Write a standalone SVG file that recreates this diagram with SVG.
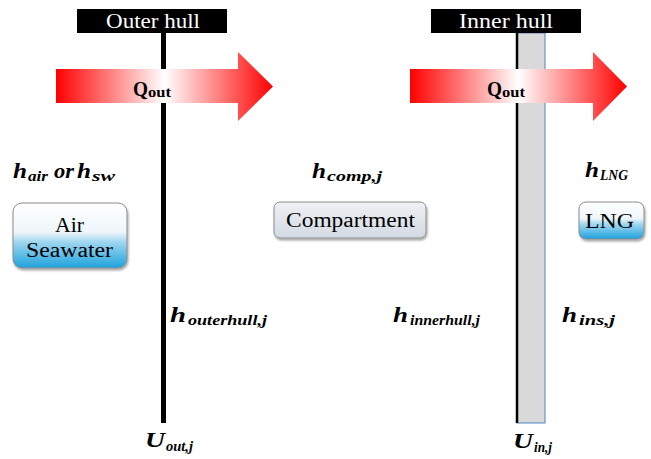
<svg xmlns="http://www.w3.org/2000/svg" width="651" height="459" viewBox="0 0 651 459">
<defs>
<linearGradient id="heat" x1="0" y1="0" x2="1" y2="0">
<stop offset="0" stop-color="#ff0000"/>
<stop offset="0.5" stop-color="#ffffff"/>
<stop offset="1" stop-color="#ff0000"/>
</linearGradient>
<linearGradient id="water" x1="0" y1="0" x2="0" y2="1">
<stop offset="0" stop-color="#ffffff"/>
<stop offset="0.45" stop-color="#eef6fb"/>
<stop offset="0.6" stop-color="#9fd6f0"/>
<stop offset="1" stop-color="#1ea2dc"/>
</linearGradient>
<linearGradient id="comp" x1="0" y1="0" x2="0" y2="1">
<stop offset="0" stop-color="#eef1f5"/>
<stop offset="1" stop-color="#d3dae3"/>
</linearGradient>
<filter id="sh" x="-10%" y="-10%" width="130%" height="140%">
<feDropShadow dx="1" dy="2" stdDeviation="1.2" flood-color="#000" flood-opacity="0.35"/>
</filter>
</defs>
<style>
.title{font-family:"Liberation Serif",serif;font-size:20px;fill:#ffffff}
.q{font-family:"Liberation Serif",serif;font-weight:bold;fill:#000}
.box{stroke:#8c8c8c;stroke-width:1}
.bt{font-family:"Liberation Serif",serif;font-size:20px;fill:#000}
.m{font-family:"Liberation Serif","DejaVu Serif",serif;font-weight:bold;font-style:italic;fill:#000;font-size:21px}
.s{font-size:15px}
</style>
<rect width="651" height="459" fill="#ffffff"/>

<g id="connectors">
<line x1="163.5" y1="33" x2="163.5" y2="423" stroke="#000" stroke-width="5"/>
<rect x="517" y="33" width="28" height="390" fill="#d9d9d9" stroke="#4f81bd" stroke-width="1"/>
<line x1="517" y1="33" x2="517" y2="423" stroke="#000" stroke-width="2.5"/>
<polygon points="56,69 238,69 238,52 273,86.5 238,121 238,103 56,103" fill="url(#heat)"/>
<polygon points="410,69 593,69 593,52 627,86.5 593,121 593,103 410,103" fill="url(#heat)"/>
</g>

<g id="outer-hull">
<rect x="77" y="9" width="150" height="24" fill="#000"/>
<text class="title" x="106" y="28" textLength="94" lengthAdjust="spacingAndGlyphs">Outer hull</text>
</g>
<g id="inner-hull">
<rect x="431" y="9" width="150" height="24" fill="#000"/>
<text class="title" x="459" y="28" textLength="94" lengthAdjust="spacingAndGlyphs">Inner hull</text>
</g>

<g id="q-out-1">
<text class="q" x="133" y="96" font-size="20" textLength="15" lengthAdjust="spacingAndGlyphs">Q</text>
<text class="q" x="148" y="97" font-size="15" textLength="23" lengthAdjust="spacingAndGlyphs">out</text>
</g>
<g id="q-out-2">
<text class="q" x="487" y="96" font-size="20" textLength="15" lengthAdjust="spacingAndGlyphs">Q</text>
<text class="q" x="502" y="97" font-size="15" textLength="23" lengthAdjust="spacingAndGlyphs">out</text>
</g>

<g id="air-seawater">
<rect class="box" x="13" y="203" width="114" height="65" rx="9" fill="url(#water)" filter="url(#sh)"/>
<text class="bt" x="55" y="232" textLength="29" lengthAdjust="spacingAndGlyphs">Air</text>
<text class="bt" x="26" y="257" textLength="87" lengthAdjust="spacingAndGlyphs">Seawater</text>
</g>
<g id="compartment">
<rect class="box" x="274" y="202" width="152" height="36" rx="6" fill="url(#comp)" filter="url(#sh)"/>
<text class="bt" x="286" y="227" textLength="129" lengthAdjust="spacingAndGlyphs">Compartment</text>
</g>
<g id="lng">
<rect class="box" x="579" y="202" width="65" height="37" rx="7" fill="url(#water)" filter="url(#sh)"/>
<text class="bt" x="585" y="228" textLength="49" lengthAdjust="spacingAndGlyphs">LNG</text>
</g>

<g id="labels">
<g id="lbl-air">
<text class="m" x="13" y="178" textLength="14" lengthAdjust="spacingAndGlyphs">h</text>
<text class="m s" x="28" y="181" textLength="20" lengthAdjust="spacingAndGlyphs">air</text>
<text class="m" x="54" y="178" textLength="20" lengthAdjust="spacingAndGlyphs">or</text>
<text class="m" x="77" y="178" textLength="14" lengthAdjust="spacingAndGlyphs">h</text>
<text class="m s" x="92" y="181" textLength="23" lengthAdjust="spacingAndGlyphs">sw</text>
</g>
<g id="lbl-comp">
<text class="m" x="312" y="178" textLength="14" lengthAdjust="spacingAndGlyphs">h</text>
<text class="m s" x="327" y="181" textLength="55" lengthAdjust="spacingAndGlyphs">comp,j</text>
</g>
<g id="lbl-lng">
<text class="m" x="585" y="177" textLength="14" lengthAdjust="spacingAndGlyphs">h</text>
<text class="m s" x="600" y="180" textLength="28" lengthAdjust="spacingAndGlyphs">LNG</text>
</g>
<g id="lbl-outer">
<text class="m" x="170" y="322" textLength="16" lengthAdjust="spacingAndGlyphs">h</text>
<text class="m s" x="188" y="325" textLength="79" lengthAdjust="spacingAndGlyphs">outerhull,j</text>
</g>
<g id="lbl-inner">
<text class="m" x="393" y="322" textLength="15" lengthAdjust="spacingAndGlyphs">h</text>
<text class="m s" x="410" y="325" textLength="70" lengthAdjust="spacingAndGlyphs">innerhull,j</text>
</g>
<g id="lbl-ins">
<text class="m" x="562" y="322" textLength="15" lengthAdjust="spacingAndGlyphs">h</text>
<text class="m s" x="579" y="325" textLength="36" lengthAdjust="spacingAndGlyphs">ins,j</text>
</g>
<g id="lbl-uout">
<text class="m" x="145" y="447" textLength="20" lengthAdjust="spacingAndGlyphs">U</text>
<text class="m s" x="166" y="451" textLength="27" lengthAdjust="spacingAndGlyphs">out,j</text>
</g>
<g id="lbl-uin">
<text class="m" x="513" y="448" textLength="20" lengthAdjust="spacingAndGlyphs">U</text>
<text class="m s" x="534" y="452" textLength="18" lengthAdjust="spacingAndGlyphs">in,j</text>
</g>
</g>
</svg>
